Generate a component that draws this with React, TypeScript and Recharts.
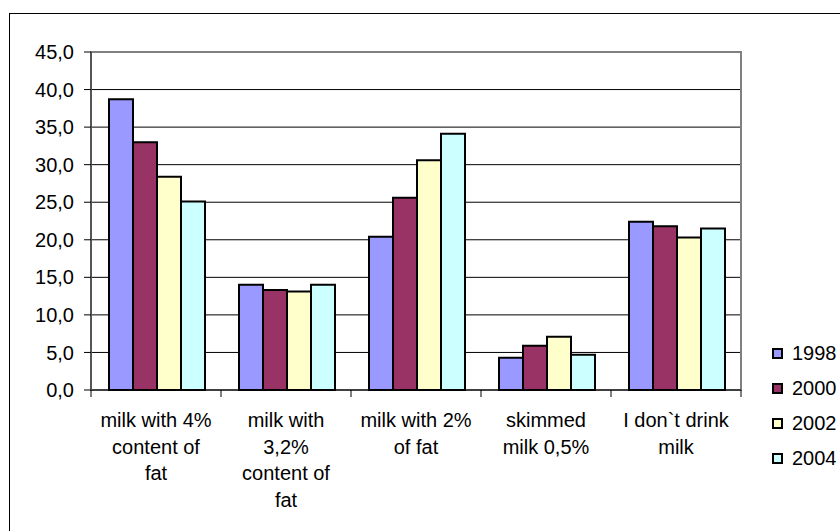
import React from "react";
import {
  BarChart,
  Bar,
  XAxis,
  YAxis,
  CartesianGrid,
  Legend,
  ReferenceArea,
} from "recharts";

// Survey categories (each label is split into its display lines)
const categories: string[][] = [
  ["milk with 4%", "content of", "fat"],
  ["milk with", "3,2%", "content of", "fat"],
  ["milk with 2%", "of fat"],
  ["skimmed", "milk 0,5%"],
  ["I don`t drink", "milk"],
];

const years = ["1998", "2000", "2002", "2004"];

const values1998 = [38.7, 14.0, 20.4, 4.3, 22.4];
const values2000 = [33.0, 13.3, 25.6, 5.9, 21.8];
const values2002 = [28.4, 13.1, 30.6, 7.1, 20.3];
const values2004 = [25.1, 14.0, 34.1, 4.7, 21.5];

const yTicks = [0, 5, 10, 15, 20, 25, 30, 35, 40, 45];

const colors = ["#9999FF", "#993366", "#FFFFCC", "#CCFFFF"];

const series = [values1998, values2000, values2002, values2004];

const data = categories.map((lines, i) => {
  const row: Record<string, any> = { key: lines.join(" ") };
  years.forEach((y, s) => {
    row[y] = series[s][i];
  });
  return row;
});

const FONT = "'Liberation Sans', Arial, sans-serif";
const FONT_SIZE = 20;

const labelLines: Record<string, string[]> = {};
categories.forEach((lines) => {
  labelLines[lines.join(" ")] = lines;
});

// Category label with tick marks on the band boundaries
const CategoryTick = (props: any) => {
  const { x, y, payload, index, width, visibleTicksCount } = props;
  const half =
    payload && payload.offset
      ? payload.offset
      : width / (visibleTicksCount || categories.length) / 2;
  const lines = labelLines[payload.value] || [String(payload.value)];
  const axisY = y - 8;
  return (
    <g>
      <line x1={x - half} y1={axisY} x2={x - half} y2={axisY + 7} stroke="#000" strokeWidth={1} />
      {index === categories.length - 1 && (
        <line x1={x + half} y1={axisY} x2={x + half} y2={axisY + 7} stroke="#000" strokeWidth={1} />
      )}
      <text
        x={x}
        y={axisY + 37}
        textAnchor="middle"
        fontFamily={FONT}
        fontSize={FONT_SIZE}
        fill="#000"
      >
        {lines.map((l, k) => (
          <tspan key={k} x={x} dy={k === 0 ? 0 : 26.7}>
            {l}
          </tspan>
        ))}
      </text>
    </g>
  );
};

const LegendContent = (props: any) => {
  const { payload } = props;
  return (
    <div style={{ fontFamily: FONT, fontSize: FONT_SIZE, color: "#000" }}>
      {(payload || []).map((p: any) => (
        <div
          key={p.value}
          style={{ display: "flex", alignItems: "center", height: 35 }}
        >
          <span
            style={{
              display: "inline-block",
              width: 7,
              height: 7,
              background: p.color,
              border: "2px solid #000",
              marginRight: 9,
              flex: "none",
            }}
          />
          <span style={{ whiteSpace: "nowrap" }}>{p.value}</span>
        </div>
      ))}
    </div>
  );
};

export default function App() {
  return (
    <div
      style={{
        position: "fixed",
        left: 0,
        top: 0,
        width: 840,
        height: 531,
        overflow: "hidden",
        background: "#fff",
      }}
    >
      <div
        style={{
          position: "absolute",
          left: 9,
          top: 13,
          right: 0,
          bottom: 0,
          borderTop: "1.5px solid #000",
          borderLeft: "1.5px solid #000",
        }}
      />
      <div style={{ position: "absolute", left: 0, top: 0 }}>
        <BarChart
          width={840}
          height={531}
          data={data}
          margin={{ top: 52, right: 99, bottom: 0, left: 1 }}
          barCategoryGap={18}
          barGap={0}
        >
          <CartesianGrid
            vertical={false}
            horizontal={true}
            stroke="#000"
            strokeWidth={1}
          />
          <ReferenceArea
            y1={0}
            y2={45}
            fill="none"
            stroke="#808080"
            strokeWidth={2}
          />
          <XAxis
            dataKey="key"
            axisLine={{ stroke: "#000", strokeWidth: 1 }}
            tickLine={false}
            tick={<CategoryTick />}
            height={141}
            interval={0}
          />
          <YAxis
            domain={[0, 45]}
            ticks={yTicks}
            width={90}
            interval={0}
            axisLine={{ stroke: "#555", strokeWidth: 2 }}
            tickLine={{ stroke: "#000", strokeWidth: 1 }}
            tickSize={7}
            tickMargin={10}
            tickFormatter={(v: number) => v.toFixed(1).replace(".", ",")}
            tick={{ fontFamily: FONT, fontSize: FONT_SIZE, fill: "#000" }}
          />
          {years.map((y, i) => (
            <Bar
              key={y}
              dataKey={y}
              fill={colors[i]}
              stroke="#000"
              strokeWidth={2}
              isAnimationActive={false}
            />
          ))}
          <Legend
            layout="vertical"
            align="center"
            verticalAlign="middle"
            content={<LegendContent />}
            wrapperStyle={{ position: "absolute", left: 772, top: 336, width: 80 }}
          />
        </BarChart>
      </div>
    </div>
  );
}
